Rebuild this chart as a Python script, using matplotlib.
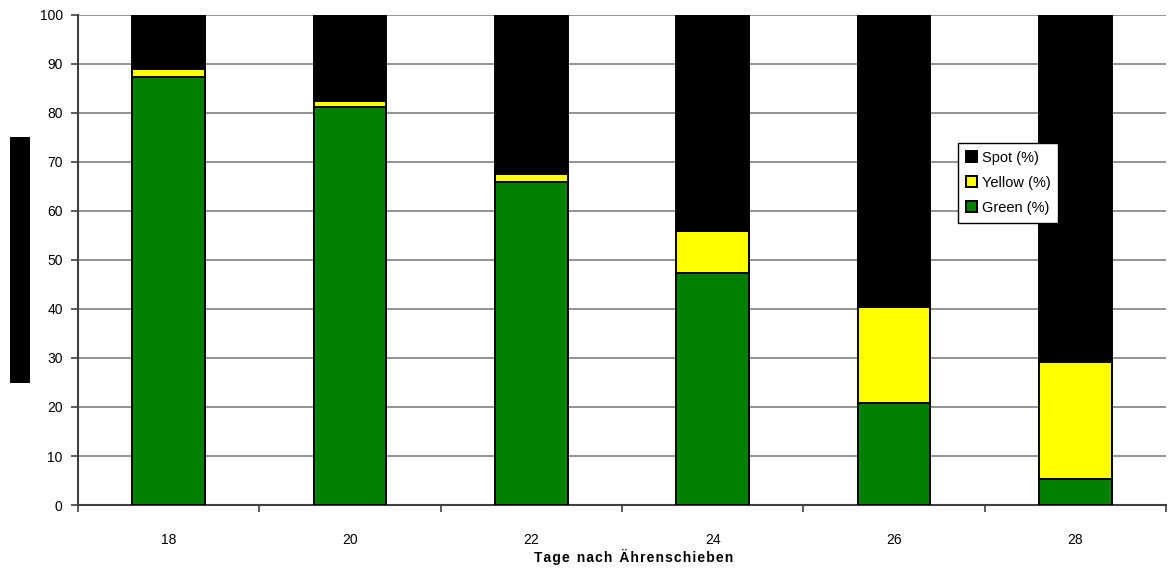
import matplotlib
matplotlib.use("Agg")
import matplotlib.pyplot as plt
from matplotlib.patches import Rectangle
import numpy as np

plt.rcParams['font.family'] = ['Liberation Sans', 'DejaVu Sans']

days = ["18", "20", "22", "24", "26", "28"]
green = [87.3, 81.2, 65.8, 47.4, 20.9, 5.4]
yellow = [1.6, 1.2, 1.8, 8.4, 19.4, 23.8]
spot = [100 - g - y for g, y in zip(green, yellow)]
y_ticks = list(range(0, 101, 10))

fig = plt.figure(figsize=(11.68, 5.70), dpi=100)
ax = fig.add_axes([0.0668, 0.114, 0.9315, 0.86])

x = np.arange(len(days))
w = 0.4
edge = dict(edgecolor="black", linewidth=1.4)
b_green = ax.bar(x, green, w, color="#008000", label="Green (%)", **edge, zorder=3)
b_yellow = ax.bar(x, yellow, w, bottom=green, color="#ffff00", label="Yellow (%)", **edge, zorder=3)
bottom2 = [g + y for g, y in zip(green, yellow)]
b_spot = ax.bar(x, spot, w, bottom=bottom2, color="black", label="Spot (%)", **edge, zorder=3)

ax.set_xlim(-0.5, len(days) - 0.5)
ax.set_ylim(0, 100)
ax.set_yticks(y_ticks)
ax.set_yticklabels([str(t) for t in y_ticks], fontsize=10)
ax.yaxis.grid(True, color="#808080", linewidth=1.2, zorder=0)
ax.set_axisbelow(True)

# category labels centred, tick marks on the category boundaries
ax.set_xticks(x)
ax.set_xticklabels(days, fontsize=10)
ax.tick_params(axis="x", length=0, pad=20)
ax.set_xticks(np.arange(-0.5, len(days), 1.0), minor=True)
ax.tick_params(axis="x", which="minor", length=5, width=1.2, color="#404040", direction="out")
ax.tick_params(axis="y", length=5, width=1.2, color="#404040", direction="out", pad=6)

for s in ["top", "right"]:
    ax.spines[s].set_visible(False)
for s in ["left", "bottom"]:
    ax.spines[s].set_color("#404040")
    ax.spines[s].set_linewidth(1.5)

xlabel = "T a g e   n a c h   Ä h r e n s c h i e b e n".replace("   ", "\u2002").replace(" ", "\u200a")
fig.text(634 / 1168, 1 - 557 / 570, xlabel, fontsize=10, fontweight="bold",
         ha="center", va="center")

leg = ax.legend(handles=[b_spot, b_yellow, b_green], loc="upper left",
                bbox_to_anchor=(0.809, 0.739), frameon=True, fancybox=False,
                framealpha=1.0, fontsize=10.5, handlelength=0.75, handleheight=0.75,
                handletextpad=0.3, borderpad=0.55, labelspacing=0.75, borderaxespad=0)
leg.get_frame().set_edgecolor("black")
leg.get_frame().set_linewidth(1.0)
leg.set_zorder(5)

# black bar at the left margin
fig.patches.append(Rectangle((10 / 1168, 1 - 383 / 570), 20 / 1168, 246 / 570,
                             transform=fig.transFigure, facecolor="black",
                             edgecolor="none"))

fig.savefig("out.png", dpi=100)
